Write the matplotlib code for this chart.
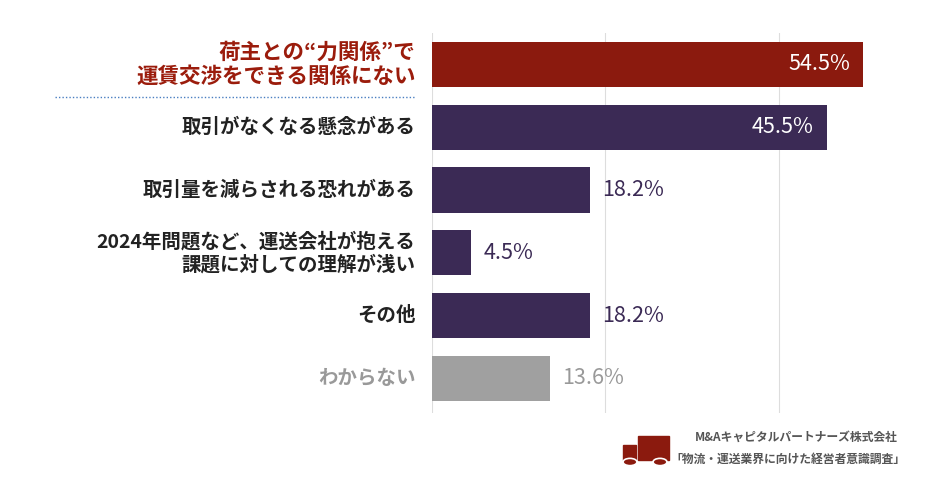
import matplotlib
matplotlib.use("Agg")
import matplotlib.pyplot as plt
from matplotlib.patches import Rectangle, Circle

categories = ["荷主との“力関係”で\n運賃交渉をできる関係にない", "取引がなくなる懸念がある", "取引量を減らされる恐れがある",
              "2024年問題など、運送会社が抱える\n課題に対しての理解が浅い", "その他", "わからない"]
values = [54.5, 45.5, 18.2, 4.5, 18.2, 13.6]
colors = ["#8b1a0e", "#3b2a55", "#3b2a55", "#3b2a55", "#3b2a55", "#a0a0a0"]
label_colors = ["#9b1c0c", "#222222", "#222222", "#222222", "#222222", "#999999"]
val_colors = ["white", "white", "#3b2a55", "#3b2a55", "#3b2a55", "#999999"]
inside = [True, True, False, False, False, False]
label_sizes = [15.5, 14, 14, 14, 14, 14]

plt.rcParams["font.family"] = "Noto Sans CJK JP"
fig = plt.figure(figsize=(9.3, 4.84), dpi=100)
W, H = 930, 484
ax = fig.add_axes([432/W, 1-413/H, 431/W, 380/H])
xmax = 49.7
ax.set_xlim(0, xmax)
ax.set_ylim(5.55, -0.5)
for g in [0, 20, 40]:
    ax.axvline(g, color="#dddddd", lw=0.8, zorder=0)
ax.barh(range(len(values)), values, height=0.72, color=colors, zorder=2)
for i, v in enumerate(values):
    if inside[i]:
        ax.text(min(v, xmax) - 1.5, i, f"{v}%", ha="right", va="center", color="white", fontsize=15.5)
    else:
        ax.text(v + 1.4, i, f"{v}%", ha="left", va="center", color=val_colors[i], fontsize=15.5)
    ax.text(-1.9, i, categories[i], ha="right", va="center", color=label_colors[i], fontsize=label_sizes[i],
            fontweight="bold", linespacing=1.2)
ax.axis("off")
fig.add_artist(plt.Line2D([55/W, 415/W], [1-97/H, 1-97/H], color="#4a7fc1", lw=1, ls=(0, (1, 1.5))))
fig.text(898/W, 1-437/H, "M&Aキャピタルパートナーズ株式会社", ha="right", va="center", fontsize=8.5, color="#555555", fontweight="bold")
fig.text(905/W, 1-459/H, "「物流・運送業界に向けた経営者意識調査」", ha="right", va="center", fontsize=8.5, color="#555555", fontweight="bold")
# truck icon
fig.add_artist(Rectangle((638/W, 1-460/H), 31/W, 24/H, color="#8b1a0e"))
fig.add_artist(Rectangle((623/W, 1-460/H), 13/W, 15/H, color="#8b1a0e"))
for cx in [630, 660]:
    fig.add_artist(Circle((cx/W, 1-462/H), 0.0075, facecolor="#8b1a0e", edgecolor="white", lw=1.2, transform=fig.transFigure))
fig.savefig("out.png", dpi=100, facecolor="white")
